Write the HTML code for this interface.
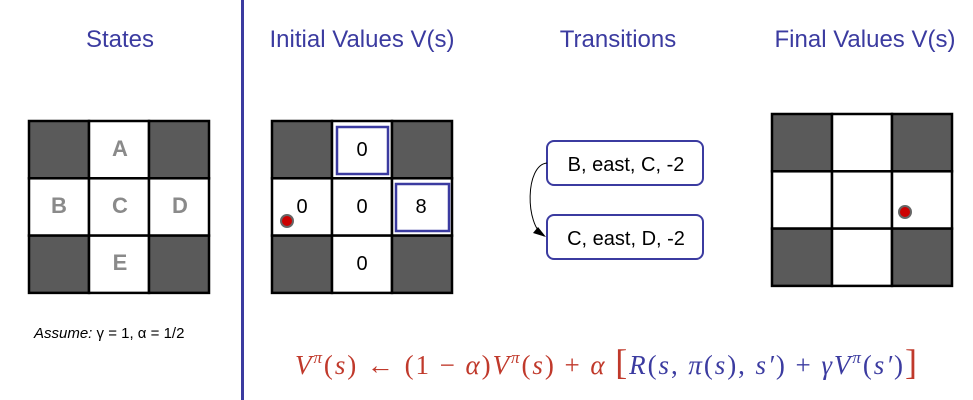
<!DOCTYPE html>
<html><head><meta charset="utf-8"><style>
body{margin:0;width:973px;height:400px;background:#fff;position:relative;overflow:hidden;font-family:"Liberation Sans",sans-serif}
.t{position:absolute;top:26px;font-size:24px;color:#3b3ba0;text-align:center;width:240px}
</style></head><body>
<div class="t" style="left:0">States</div>
<div class="t" style="left:242px">Initial Values V(s)</div>
<div class="t" style="left:498px">Transitions</div>
<div class="t" style="left:745px">Final Values V(s)</div>
<svg width="973" height="400" style="position:absolute;left:0;top:0">
<line x1="242.5" y1="0" x2="242.5" y2="400" stroke="#3b3ba0" stroke-width="3"/>
<g id="grids"></g>
<g font-family="Liberation Sans" font-size="22" font-weight="bold" fill="#8a8a8a" text-anchor="middle">
<text x="120" y="156">A</text><text x="59" y="213">B</text><text x="120" y="213">C</text><text x="180" y="213">D</text><text x="120" y="270">E</text>
</g>
<rect x="337" y="127" width="51" height="47" fill="none" stroke="#3b3ba0" stroke-width="2.5"/>
<rect x="396" y="184" width="53" height="47" fill="none" stroke="#3b3ba0" stroke-width="2.5"/>
<g font-family="Liberation Sans" font-size="20" fill="#000" text-anchor="middle">
<text x="362" y="156">0</text><text x="302" y="213">0</text><text x="362" y="213">0</text><text x="421" y="213">8</text><text x="362" y="270">0</text>
</g>
<circle cx="287" cy="221" r="6" fill="#c00" stroke="#666" stroke-width="2"/>
<circle cx="905" cy="212" r="6" fill="#c00" stroke="#666" stroke-width="2"/>
<rect x="547" y="141" width="156" height="44" rx="7" fill="#fff" stroke="#3b3ba0" stroke-width="2"/>
<rect x="547" y="215" width="156" height="44" rx="7" fill="#fff" stroke="#3b3ba0" stroke-width="2"/>
<g font-family="Liberation Sans" font-size="20" fill="#000" text-anchor="middle">
<text x="626" y="171">B, east, C, -2</text>
<text x="626" y="245">C, east, D, -2</text>
</g>
<path d="M547 163 C525 165,525 225,544 236" fill="none" stroke="#000" stroke-width="1"/>
<polygon points="546,237 533,233 538,227" fill="#000"/>
<text x="34" y="338" font-family="Liberation Sans" font-size="15" fill="#000"><tspan font-style="italic">Assume:</tspan> γ = 1, α = 1/2</text>
<text x="295" y="374" textLength="622" lengthAdjust="spacing" font-family="Liberation Serif" font-size="27" fill="#c0392b"><tspan font-style="italic">V</tspan><tspan font-size="17" dy="-11" font-style="italic">π</tspan><tspan dy="11">(<tspan font-style="italic">s</tspan>) ← (1 − <tspan font-style="italic">α</tspan>)<tspan font-style="italic">V</tspan></tspan><tspan font-size="17" dy="-11" font-style="italic">π</tspan><tspan dy="11">(<tspan font-style="italic">s</tspan>) + <tspan font-style="italic">α</tspan> <tspan font-size="36">[</tspan><tspan fill="#3b3ba0"><tspan font-style="italic">R</tspan>(<tspan font-style="italic">s</tspan>, <tspan font-style="italic">π</tspan>(<tspan font-style="italic">s</tspan>), <tspan font-style="italic">s′</tspan>) + <tspan font-style="italic">γV</tspan></tspan></tspan><tspan font-size="17" dy="-11" font-style="italic" fill="#3b3ba0">π</tspan><tspan dy="11" fill="#3b3ba0">(<tspan font-style="italic">s′</tspan>)</tspan><tspan font-size="36">]</tspan></text>
</svg>
<script>
const grids=[[29,121],[272,121],[772,114]];
const dark=[[0,0],[2,0],[0,2],[2,2]];
const g=document.getElementById('grids');
const ns='http://www.w3.org/2000/svg';
grids.forEach(([x0,y0],gi)=>{
  const cw=60,ch=57.3;
  for(let r=0;r<3;r++)for(let c=0;c<3;c++){
    const d=dark.some(([a,b])=>a===c&&b===r);
    const el=document.createElementNS(ns,'rect');
    el.setAttribute('x',x0+c*cw);el.setAttribute('y',y0+r*ch);
    el.setAttribute('width',cw);el.setAttribute('height',ch);
    el.setAttribute('fill',d?'#5a5a5a':'#fff');el.setAttribute('stroke','#000');el.setAttribute('stroke-width','2.5');
    
    
    g.appendChild(el);
  }
});
</script>
</body></html>
